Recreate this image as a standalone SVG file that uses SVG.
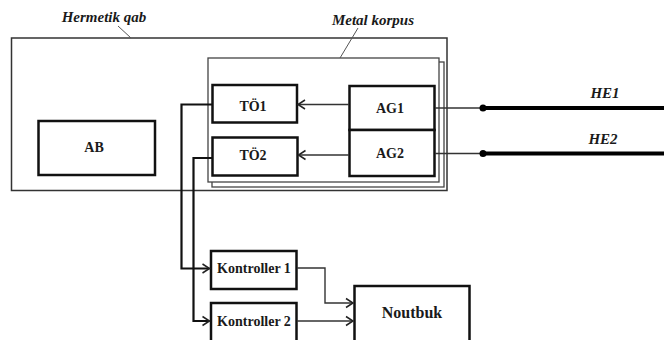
<svg xmlns="http://www.w3.org/2000/svg" width="664" height="340" viewBox="0 0 664 340">
<defs>
<style>
.box{fill:#fff;stroke:#111;stroke-width:2.5}
.enc{fill:none;stroke:#333;stroke-width:1.5}
.mk{fill:#fff;stroke:#444;stroke-width:1.3}
.lbl{font-family:"Liberation Serif","Times New Roman",serif;font-weight:bold;font-size:14px;fill:#1a1a1a;text-anchor:middle}
.it{font-family:"Liberation Serif","Times New Roman",serif;font-weight:bold;font-style:italic;font-size:15px;fill:#1a1a1a;text-anchor:middle}
.thin{fill:none;stroke:#333;stroke-width:1.4}
.bus{fill:none;stroke:#111;stroke-width:2.2}
.leader{fill:none;stroke:#555;stroke-width:1}
</style>
<marker id="ar" markerWidth="12" markerHeight="12" refX="9" refY="6" orient="auto" markerUnits="userSpaceOnUse">
<path d="M2,1.5 L9,6 L2,10.5" fill="none" stroke="#222" stroke-width="1.5"/>
</marker>
</defs>

<g id="hermetik-qab">
<rect class="enc" x="11.5" y="38" width="435.5" height="152.5"/>
<text class="it" x="104" y="22">Hermetik qab</text>
<line class="leader" x1="118" y1="26" x2="131" y2="38"/>
</g>

<g id="metal-korpus">
<rect class="mk" x="212" y="62" width="232" height="125"/>
<rect class="mk" x="208" y="58" width="231" height="124"/>
<text class="it" x="373" y="25">Metal korpus</text>
<line class="leader" x1="358" y1="28" x2="340" y2="58"/>
</g>

<g id="AB">
<rect class="box" x="38.5" y="121" width="116.5" height="54"/>
<text class="lbl" x="94" y="151.5">AB</text>
</g>

<g id="TO1">
<rect class="box" x="212.5" y="85" width="84.5" height="37.5"/>
<text class="lbl" x="253" y="111">TÖ1</text>
</g>

<g id="TO2">
<rect class="box" x="212.5" y="137.5" width="85" height="38"/>
<text class="lbl" x="253" y="160">TÖ2</text>
</g>

<g id="AG1">
<rect class="box" x="349.5" y="86" width="85" height="44"/>
<text class="lbl" x="390" y="113">AG1</text>
</g>

<g id="AG2">
<rect class="box" x="349.5" y="130" width="85" height="46"/>
<text class="lbl" x="390" y="158">AG2</text>
</g>

<g id="Kontroller1">
<rect class="box" x="211" y="251" width="85.5" height="38"/>
<text class="lbl" x="254" y="273">Kontroller 1</text>
</g>

<g id="Kontroller2">
<rect class="box" x="211" y="303" width="85.5" height="40"/>
<text class="lbl" x="254" y="326">Kontroller 2</text>
</g>

<g id="Noutbuk">
<rect class="box" x="354.5" y="286" width="115" height="60"/>
<text class="lbl" x="412" y="318" style="font-size:16px">Noutbuk</text>
</g>

<g id="HE-labels">
<text class="it" x="605" y="98">HE1</text>
<text class="it" x="603" y="144">HE2</text>
</g>

<g id="connectors">
<line class="thin" x1="349" y1="104.5" x2="298" y2="104.5" marker-end="url(#ar)"/>
<line class="thin" x1="349" y1="155" x2="298.5" y2="155" marker-end="url(#ar)"/>
<polyline class="bus" points="212,104.5 181.5,104.5 181.5,268.5 209.5,268.5" marker-end="url(#ar)"/>
<polyline class="bus" points="212,158 193.5,158 193.5,321 209.5,321" marker-end="url(#ar)"/>
<polyline class="thin" points="297,268 325,268 325,303 353,303" marker-end="url(#ar)"/>
<line class="thin" x1="297" y1="321" x2="353" y2="321" marker-end="url(#ar)"/>
<line class="thin" x1="435" y1="108" x2="483" y2="108"/>
<line x1="483" y1="108" x2="664" y2="108" stroke="#000" stroke-width="4"/>
<circle cx="483" cy="108" r="3.5" fill="#000"/>
<line class="thin" x1="435" y1="153.5" x2="483" y2="153.5"/>
<line x1="483" y1="153.5" x2="664" y2="153.5" stroke="#000" stroke-width="4"/>
<circle cx="483" cy="153.5" r="3.5" fill="#000"/>
</g>
</svg>
